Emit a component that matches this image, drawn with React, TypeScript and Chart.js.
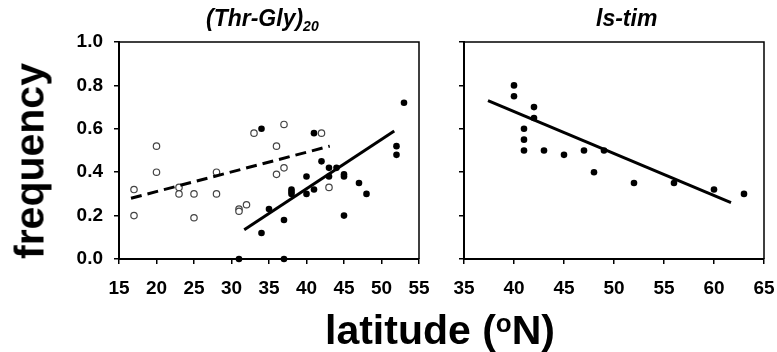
import React, { useEffect, useRef } from 'react';
import { Chart, registerables } from 'chart.js';

Chart.register(...registerables);

// (Thr-Gly)20 panel — open circles
const thrGlyOpenLat = [17, 17, 20, 20, 23, 23, 25, 25, 28, 28, 31, 31, 32, 33, 36, 36, 37, 37, 42, 43];
const thrGlyOpenFreq = [0.32, 0.2, 0.52, 0.4, 0.33, 0.3, 0.3, 0.19, 0.4, 0.3, 0.23, 0.22, 0.25, 0.58, 0.52, 0.39, 0.62, 0.42, 0.58, 0.33];
// (Thr-Gly)20 panel — filled circles
const thrGlyFilledLat = [31, 34, 34, 35, 37, 37, 38, 38, 38, 40, 40, 41, 41, 42, 43, 43, 44, 45, 45, 45, 47, 48, 52, 52, 53];
const thrGlyFilledFreq = [0.0, 0.6, 0.12, 0.23, 0.18, 0.0, 0.32, 0.31, 0.3, 0.38, 0.3, 0.58, 0.32, 0.45, 0.42, 0.38, 0.42, 0.39, 0.38, 0.2, 0.35, 0.3, 0.52, 0.48, 0.72];
// regression lines
const thrGlyOpenFitLat = [16.6, 43.1];
const thrGlyOpenFitFreq = [0.28, 0.52];
const thrGlyFilledFitLat = [31.7, 51.7];
const thrGlyFilledFitFreq = [0.135, 0.59];

// ls-tim panel
const lsTimLat = [40, 40, 41, 41, 41, 42, 42, 43, 45, 47, 48, 49, 52, 56, 60, 63];
const lsTimFreq = [0.8, 0.75, 0.6, 0.55, 0.5, 0.7, 0.65, 0.5, 0.48, 0.5, 0.4, 0.5, 0.35, 0.35, 0.32, 0.3];
const lsTimFitLat = [37.4, 61.7];
const lsTimFitFreq = [0.73, 0.26];

// ticks
const leftXTicks = [15, 20, 25, 30, 35, 40, 45, 50, 55];
const rightXTicks = [35, 40, 45, 50, 55, 60, 65];
const yTicks = [0, 0.2, 0.4, 0.6, 0.8, 1.0];

const FONT = '"Liberation Sans", Arial, sans-serif';

const pts = (xs: number[], ys: number[]) => xs.map((x, i) => ({ x, y: ys[i] }));

const boxPlugin = {
  id: 'panelBox',
  beforeDatasetsDraw(chart: any) {
    const { ctx, chartArea } = chart;
    ctx.save();
    ctx.strokeStyle = '#000';
    ctx.lineWidth = 1.5;
    ctx.beginPath();
    ctx.moveTo(chartArea.left, chartArea.top);
    ctx.lineTo(chartArea.right, chartArea.top);
    ctx.lineTo(chartArea.right, chartArea.bottom);
    ctx.stroke();
    ctx.restore();
  },
};

function makeOptions(xTicks: number[], yAxisWidth: number, showYLabels: boolean, padRight: number) {
  return {
    responsive: false,
    maintainAspectRatio: false,
    animation: false,
    layout: { padding: { top: 42, right: padRight, left: 0, bottom: 0 } },
    plugins: { legend: { display: false }, tooltip: { enabled: false }, title: { display: false } },
    scales: {
      x: {
        type: 'linear',
        min: xTicks[0],
        max: xTicks[xTicks.length - 1],
        afterBuildTicks: (s: any) => {
          s.ticks = xTicks.map((v) => ({ value: v }));
        },
        afterFit: (s: any) => {
          s.height = 93;
          s.paddingLeft = 0;
          s.paddingRight = 0;
        },
        grid: { drawOnChartArea: false, drawTicks: true, tickLength: 5, color: '#000', lineWidth: 1.5 },
        border: { display: true, color: '#000', width: 2 },
        ticks: {
          color: '#000',
          padding: 13,
          maxRotation: 0,
          autoSkip: false,
          font: { family: FONT, size: 19, weight: 'bold' },
          callback: (v: any) => String(v),
        },
      },
      y: {
        type: 'linear',
        min: 0,
        max: 1,
        afterBuildTicks: (s: any) => {
          s.ticks = yTicks.map((v) => ({ value: v }));
        },
        afterFit: (s: any) => {
          s.width = yAxisWidth;
          s.paddingTop = 0;
          s.paddingBottom = 0;
        },
        grid: { drawOnChartArea: false, drawTicks: true, tickLength: 5, color: '#000', lineWidth: 1.5 },
        border: { display: true, color: '#000', width: 2 },
        ticks: {
          color: '#000',
          padding: 11,
          autoSkip: false,
          font: { family: FONT, size: 19, weight: 'bold' },
          callback: (v: any) => (showYLabels ? Number(v).toFixed(1) : ''),
        },
      },
    },
  };
}

const filledStyle = {
  type: 'scatter',
  pointRadius: 3.3,
  pointBackgroundColor: '#000',
  pointBorderColor: '#000',
  pointBorderWidth: 0,
  showLine: false,
  clip: false,
};

const openStyle = {
  type: 'scatter',
  pointRadius: 3.2,
  pointBackgroundColor: '#fff',
  pointBorderColor: '#444',
  pointBorderWidth: 1.2,
  showLine: false,
  clip: false,
};

function lineStyle(dash: number[]) {
  return {
    type: 'line',
    borderColor: '#000',
    borderWidth: 3,
    borderDash: dash,
    pointRadius: 0,
    fill: false,
    tension: 0,
    clip: false,
  };
}

export default function App() {
  const leftRef = useRef<HTMLCanvasElement | null>(null);
  const rightRef = useRef<HTMLCanvasElement | null>(null);

  useEffect(() => {
    const left = new Chart(leftRef.current as HTMLCanvasElement, {
      type: 'scatter',
      data: {
        datasets: [
          { ...lineStyle([11, 6]), data: pts(thrGlyOpenFitLat, thrGlyOpenFitFreq) },
          { ...lineStyle([]), data: pts(thrGlyFilledFitLat, thrGlyFilledFitFreq) },
          { ...openStyle, data: pts(thrGlyOpenLat, thrGlyOpenFreq) },
          { ...filledStyle, data: pts(thrGlyFilledLat, thrGlyFilledFreq) },
        ] as any,
      },
      options: makeOptions(leftXTicks, 119, true, 11) as any,
      plugins: [boxPlugin],
    });
    const right = new Chart(rightRef.current as HTMLCanvasElement, {
      type: 'scatter',
      data: {
        datasets: [
          { ...lineStyle([]), data: pts(lsTimFitLat, lsTimFitFreq) },
          { ...filledStyle, data: pts(lsTimLat, lsTimFreq) },
        ] as any,
      },
      options: makeOptions(rightXTicks, 34, false, 13) as any,
      plugins: [boxPlugin],
    });
    return () => {
      left.destroy();
      right.destroy();
    };
  }, []);

  const textBase: React.CSSProperties = {
    position: 'absolute',
    fontFamily: FONT,
    color: '#000',
    whiteSpace: 'nowrap',
    lineHeight: 1,
  };

  return (
    <div style={{ position: 'absolute', left: 0, top: 0, width: 777, height: 352, background: '#fff', overflow: 'hidden' }}>
      <canvas ref={leftRef} width={430} height={352} style={{ position: 'absolute', left: 0, top: 0, width: 430, height: 352 }} />
      <canvas ref={rightRef} width={347} height={352} style={{ position: 'absolute', left: 430, top: 0, width: 347, height: 352 }} />
      <div style={{ ...textBase, left: 206, top: 7, fontSize: 23, fontWeight: 'bold', fontStyle: 'italic' }}>
        (Thr-Gly)<sub style={{ fontSize: 14, verticalAlign: -5 }}>20</sub>
      </div>
      <div style={{ ...textBase, left: 596, top: 7, fontSize: 23, fontWeight: 'bold', fontStyle: 'italic' }}>
        ls-tim
      </div>
      <div
        style={{
          ...textBase,
          left: 30,
          top: 161,
          fontSize: 41,
          fontWeight: 'bold',
          transform: 'translate(-50%, -50%) rotate(-90deg)',
        }}
      >
        frequency
      </div>
      <div style={{ ...textBase, left: 440, top: 330, fontSize: 41, fontWeight: 'bold', transform: 'translate(-50%, -50%)' }}>
        latitude (<sup style={{ fontSize: 26, verticalAlign: 12 }}>o</sup>N)
      </div>
    </div>
  );
}
